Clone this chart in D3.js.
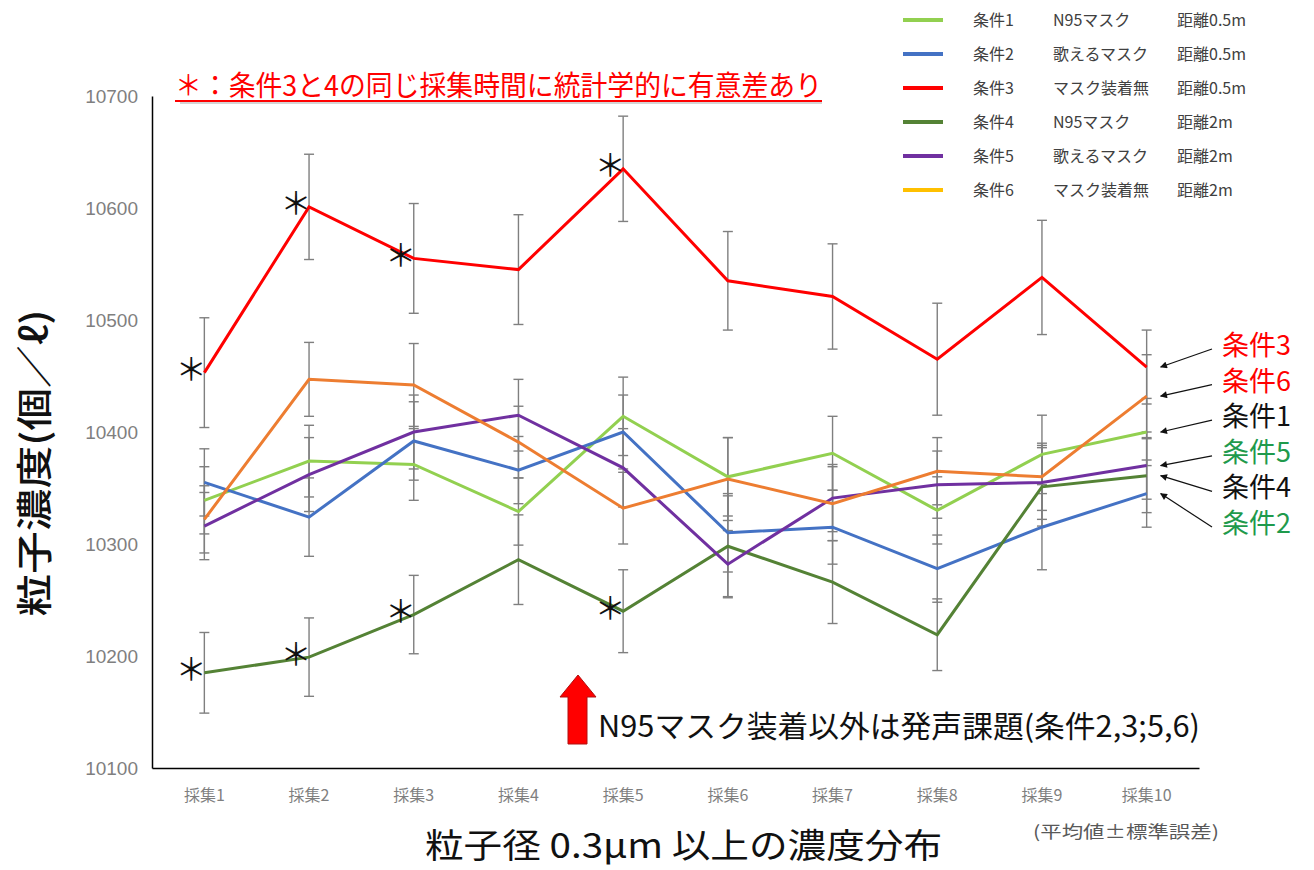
<!DOCTYPE html>
<html>
<head>
<meta charset="utf-8">
<script src="https://cdn.jsdelivr.net/npm/d3@7"></script>
<style>
  body { margin: 0; background: #fff; }
  svg { display: block; }
  text { font-family: "Noto Sans CJK JP", "Noto Sans", sans-serif; }
</style>
</head>
<body>
<svg id="chart"></svg>
<script>
// data
const categories = ["採集1", "採集2", "採集3", "採集4", "採集5", "採集6", "採集7", "採集8", "採集9", "採集10"];
const conditions = ["条件1", "条件2", "条件3", "条件4", "条件5", "条件6"];
const masks = ["N95マスク", "歌えるマスク", "マスク装着無", "N95マスク", "歌えるマスク", "マスク装着無"];
const distances = ["距離0.5m", "距離0.5m", "距離0.5m", "距離2m", "距離2m", "距離2m"];

const cond1 = [10339, 10374, 10371, 10329, 10414, 10360, 10381, 10330, 10380, 10400];
const cond2 = [10355, 10324, 10392, 10366, 10400, 10310, 10315, 10278, 10315, 10345];
const cond3 = [10453, 10601, 10555, 10545, 10635, 10535, 10521, 10465, 10538, 10458];
const cond4 = [10185, 10199, 10237, 10286, 10240, 10298, 10266, 10219, 10351, 10361];
const cond5 = [10316, 10362, 10400, 10415, 10368, 10282, 10341, 10353, 10355, 10370];
const cond6 = [10322, 10447, 10442, 10391, 10332, 10358, 10336, 10365, 10360, 10432];

// standard error (±)
const err1 = [30, 32, 32, 30, 35, 35, 33, 30, 35, 30];
const err2 = [30, 35, 35, 30, 33, 35, 33, 30, 38, 30];
const err3 = [49, 47, 49, 49, 47, 44, 47, 50, 51, 33];
const err4 = [36, 35, 35, 40, 37, 45, 37, 32, 35, 33];
const err5 = [30, 33, 33, 32, 35, 30, 30, 30, 33, 30];
const err6 = [30, 33, 37, 32, 32, 37, 33, 30, 30, 37];

const yTicks = [10100, 10200, 10300, 10400, 10500, 10600, 10700];

// significant difference marks (series index, category index)
const starMarks = [[2, 0], [2, 1], [2, 2], [2, 4], [3, 0], [3, 1], [3, 2], [3, 4]];

// right side labels, top to bottom
const sideLabels = ["条件3", "条件6", "条件1", "条件5", "条件4", "条件2"];
const sideSeries = [2, 5, 0, 4, 3, 1];

const lineColors = ["#92d050", "#4472c4", "#ff0000", "#548235", "#7030a0", "#ed7d31"];
const legendColors = ["#92d050", "#4472c4", "#ff0000", "#548235", "#7030a0", "#ffc000"];
const sideColors = ["#ff0000", "#ff0000", "#111111", "#1f9a4c", "#111111", "#1f9a4c"];

const seriesValues = [cond1, cond2, cond3, cond4, cond5, cond6];
const seriesErrors = [err1, err2, err3, err4, err5, err6];

const width = 1314;
const height = 870;
const svg = d3.select("#chart")
              .attr("width", width)
              .attr("height", height);

const plotLeft = 152, plotRight = 1199, plotTop = 96, plotBottom = 768;

const x = d3.scaleBand()
            .domain(categories)
            .range([plotLeft, plotRight]);
const y = d3.scaleLinear()
            .domain([10100, 10700])
            .range([plotBottom, plotTop]);
const cx = c => x(c) + x.bandwidth() / 2;

// axes
const yAxis = svg.append("g")
                 .attr("transform", `translate(${plotLeft},0)`)
                 .call(d3.axisLeft(y).tickValues(yTicks).tickSize(0).tickPadding(14).tickFormat(d3.format("d")));
yAxis.select(".domain").attr("stroke", "#000").attr("stroke-width", 1.5);
yAxis.selectAll("text")
     .attr("fill", "#7f7f7f")
     .style("font-family", "'Liberation Sans', sans-serif")
     .style("font-size", "19px");

const xAxis = svg.append("g")
                 .attr("transform", `translate(0,${plotBottom})`)
                 .call(d3.axisBottom(x).tickSize(0).tickPadding(22).tickSizeOuter(0));
xAxis.select(".domain").attr("stroke", "#000").attr("stroke-width", 1.5);
xAxis.selectAll("text")
     .attr("fill", "#7f7f7f")
     .style("font-size", "16px");

// series: error bars then line
const line = d3.line()
               .x((d, i) => cx(categories[i]))
               .y(d => y(d));

seriesValues.forEach(function(vals, s) {
  const g = svg.append("g");
  const errs = seriesErrors[s];
  const bars = g.selectAll(".err")
                .data(vals)
                .enter()
                .append("g")
                .attr("stroke", "#7f7f7f")
                .attr("stroke-width", 1.4);
  bars.append("line")
      .attr("x1", (d, i) => cx(categories[i]))
      .attr("x2", (d, i) => cx(categories[i]))
      .attr("y1", (d, i) => y(d + errs[i]))
      .attr("y2", (d, i) => y(d - errs[i]));
  bars.append("line")
      .attr("x1", (d, i) => cx(categories[i]) - 5)
      .attr("x2", (d, i) => cx(categories[i]) + 5)
      .attr("y1", (d, i) => y(d + errs[i]))
      .attr("y2", (d, i) => y(d + errs[i]));
  bars.append("line")
      .attr("x1", (d, i) => cx(categories[i]) - 5)
      .attr("x2", (d, i) => cx(categories[i]) + 5)
      .attr("y1", (d, i) => y(d - errs[i]))
      .attr("y2", (d, i) => y(d - errs[i]));
});

seriesValues.forEach(function(vals, s) {
  svg.append("path")
     .datum(vals)
     .attr("fill", "none")
     .attr("stroke", lineColors[s])
     .attr("stroke-width", 3)
     .attr("stroke-linejoin", "miter")
     .attr("d", line);
});

// asterisks
svg.append("g").selectAll("text")
   .data(starMarks)
   .enter()
   .append("text")
     .attr("x", d => cx(categories[d[1]]) - 13)
     .attr("y", d => y(seriesValues[d[0]][d[1]]) - 6)
     .attr("text-anchor", "middle")
     .attr("dominant-baseline", "central")
     .style("font-size", "31px")
     .attr("fill", "#111")
     .text("＊");

// legend
const legend = svg.append("g");
const rows = legend.selectAll("g")
                   .data(conditions)
                   .enter()
                   .append("g")
                   .attr("transform", (d, i) => `translate(0,${20 + i * 34})`);
rows.append("line")
    .attr("x1", 903).attr("x2", 943)
    .attr("stroke", (d, i) => legendColors[i])
    .attr("stroke-width", 4);
rows.append("text")
    .attr("x", 973).attr("y", 6)
    .style("font-size", "16px").attr("fill", "#404040")
    .text(d => d);
rows.append("text")
    .attr("x", 1053).attr("y", 6)
    .style("font-size", "16px").attr("fill", "#404040")
    .text((d, i) => masks[i]);
rows.append("text")
    .attr("x", 1177).attr("y", 6)
    .style("font-size", "16px").attr("fill", "#404040")
    .text((d, i) => distances[i]);

// red note at top
svg.append("text")
   .attr("x", 175).attr("y", 96)
   .attr("textLength", 647)
   .attr("lengthAdjust", "spacingAndGlyphs")
   .style("font-size", "28px")
   .attr("fill", "#ff0000")
   .text("＊：条件3と4の同じ採集時間に統計学的に有意差あり");
svg.append("line")
   .attr("x1", 180).attr("x2", 822).attr("y1", 103).attr("y2", 103)
   .attr("stroke", "#aaa").attr("stroke-width", 1.2);
svg.append("line")
   .attr("x1", 175).attr("x2", 822).attr("y1", 101).attr("y2", 101)
   .attr("stroke", "#ff0000").attr("stroke-width", 1.8);

// side labels with arrows
svg.append("defs").append("marker")
   .attr("id", "ah")
   .attr("viewBox", "0 0 10 10")
   .attr("refX", 9).attr("refY", 5)
   .attr("markerWidth", 9).attr("markerHeight", 7)
   .attr("markerUnits", "userSpaceOnUse")
   .attr("orient", "auto")
   .append("path").attr("d", "M0,0L10,5L0,10z").attr("fill", "#111");

const lastCat = categories[categories.length - 1];
const side = svg.append("g");
sideLabels.forEach(function(lab, i) {
  const by = 355 + i * 35.6;
  side.append("text")
      .attr("x", 1222).attr("y", by)
      .style("font-size", "27px")
      .attr("fill", sideColors[i])
      .text(lab);
  const s = sideSeries[i];
  side.append("line")
      .attr("x1", 1212).attr("y1", by - 6)
      .attr("x2", cx(lastCat) + 14)
      .attr("y2", y(seriesValues[s][categories.length - 1]))
      .attr("stroke", "#111").attr("stroke-width", 1.2)
      .attr("marker-end", "url(#ah)");
});

// bottom note with red arrow
svg.append("path")
   .attr("d", "M578,675 L596,697 L587,697 L587,744 L568,744 L568,697 L560,697 Z")
   .attr("fill", "#ff0000")
   .attr("stroke", "#b01010")
   .attr("stroke-width", 1);
svg.append("text")
   .attr("x", 598).attr("y", 737)
   .attr("textLength", 602)
   .attr("lengthAdjust", "spacingAndGlyphs")
   .style("font-size", "30px")
   .attr("fill", "#111")
   .text("N95マスク装着以外は発声課題(条件2,3;5,6)");

// axis titles
svg.append("text")
   .attr("transform", "translate(48,463) rotate(-90)")
   .attr("text-anchor", "middle")
   .attr("textLength", 307)
   .attr("lengthAdjust", "spacingAndGlyphs")
   .style("font-size", "36px")
   .style("font-weight", "500")
   .attr("fill", "#111")
   .text("粒子濃度(個／ℓ)");

svg.append("text")
   .attr("x", 425).attr("y", 858)
   .attr("textLength", 517)
   .attr("lengthAdjust", "spacingAndGlyphs")
   .style("font-size", "34px")
   .attr("fill", "#111")
   .text("粒子径 0.3μm 以上の濃度分布");

svg.append("text")
   .attr("x", 1033).attr("y", 838)
   .attr("textLength", 186)
   .attr("lengthAdjust", "spacingAndGlyphs")
   .style("font-size", "17px")
   .attr("fill", "#595959")
   .text("(平均値±標準誤差)");
</script>
</body>
</html>
